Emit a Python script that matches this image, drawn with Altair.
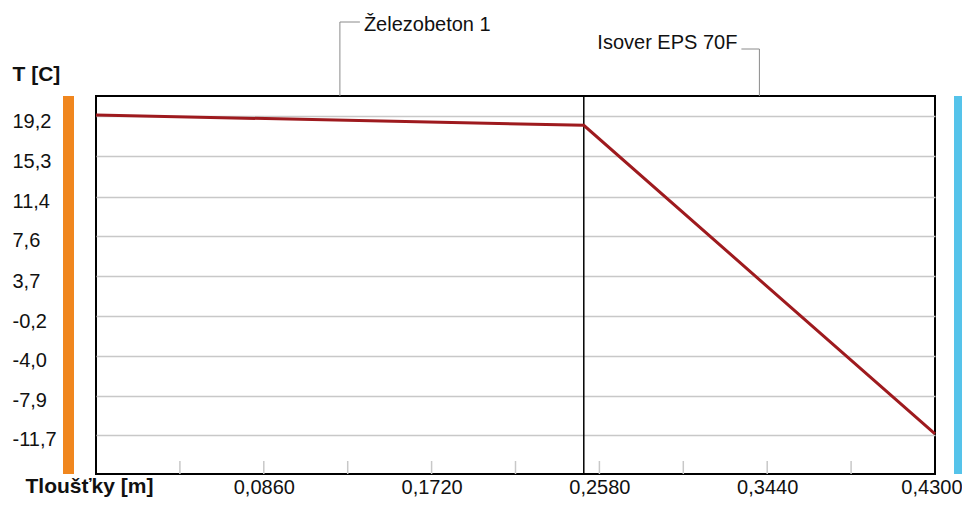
import altair as alt
import pandas as pd

# ---- data ----
layer_names = ["Železobeton 1", "Isover EPS 70F"]
layer_thickness = [0.25, 0.18]
profile_x = [0.0, 0.25, 0.43]
profile_t = [19.3, 18.3, -11.6]
y_ticks = [19.2, 15.3, 11.4, 7.6, 3.7, -0.2, -4.0, -7.9, -11.7]
x_labels = [0.086, 0.172, 0.258, 0.344, 0.43]
x_minor = [0.043, 0.086, 0.129, 0.172, 0.215, 0.258, 0.301, 0.344, 0.387]

# derived tables
starts, mids = [], []
acc = 0.0
for t in layer_thickness:
    starts.append(acc)
    mids.append(acc + t / 2)
    acc += t
boundaries = starts[1:]

W, H = 839, 378
FONT = "Liberation Sans"
X_DOMAIN = [0, 0.43]
Y_DOMAIN = [-15.48, 21.14]

prof = pd.DataFrame({"x": profile_x, "t": profile_t})
xs = alt.Scale(domain=X_DOMAIN, nice=False, zero=False)
ys = alt.Scale(domain=Y_DOMAIN, nice=False, zero=False)

num_expr_y = "replace(replace(format(datum.value, '.1f'), '.', ','), '\u2212', '-')"
num_expr_x = "replace(format(datum.value, '.4f'), '.', ',')"

line = alt.Chart(prof).mark_line(color="#9e1a1e", strokeWidth=3).encode(
    x=alt.X("x:Q", scale=xs, axis=alt.Axis(
        values=x_labels, labelExpr=num_expr_x, grid=False, ticks=False, domain=False,
        labelPadding=3, labelFontSize=20, labelFont=FONT, labelColor="#111",
        labelFlush=True, labelFlushOffset=27,
        title="Tloušťky [m]", titleX=-71, titleY=12, titleAlign="left",
        titleBaseline="middle", titleFontSize=21, titleFontWeight="bold",
        titleFont=FONT, titleColor="#111")),
    y=alt.Y("t:Q", scale=ys, axis=alt.Axis(
        values=y_ticks, labelExpr=num_expr_y, grid=True, gridColor="#c8c8c8",
        gridWidth=1.5, ticks=False, domain=False, labelAlign="left",
        labelPadding=84, labelOffset=5, labelBaseline="middle",
        labelFontSize=20, labelFont=FONT, labelColor="#111",
        title="T [C]", titleAngle=0, titleX=-84, titleY=-22, titleAlign="left",
        titleBaseline="middle", titleFontSize=21, titleFontWeight="bold",
        titleFont=FONT, titleColor="#111")),
)

bnd = alt.Chart(pd.DataFrame({"x": boundaries})).mark_rule(
    color="black", strokeWidth=1.5).encode(
    x=alt.X("x:Q", scale=xs), y=alt.value(0), y2=alt.value(H))

minor = alt.Chart(pd.DataFrame({"x": x_minor})).mark_rule(
    color="#c8c8c8", strokeWidth=1.5).encode(
    x=alt.X("x:Q", scale=xs), y=alt.value(H - 13), y2=alt.value(H))

one = pd.DataFrame({"k": [0]})
inner_bar = alt.Chart(one).mark_rect(color="#f0861e").encode(
    x=alt.value(-33), x2=alt.value(-22), y=alt.value(0), y2=alt.value(H))
outer_bar = alt.Chart(one).mark_rect(color="#55c3ea").encode(
    x=alt.value(W + 19), x2=alt.value(W + 30), y=alt.value(0), y2=alt.value(H))

ann = pd.DataFrame({"name": layer_names, "mid": mids})
a0 = ann.iloc[[0]]
a1 = ann.iloc[[1]]
lead_col = "#8a8a8a"

l0v = alt.Chart(a0).mark_rule(color=lead_col, strokeWidth=1).encode(
    x=alt.X("mid:Q", scale=xs), y=alt.value(-74), y2=alt.value(0))
l0h = alt.Chart(a0).mark_rule(color=lead_col, strokeWidth=1, x2Offset=20).encode(
    x=alt.X("mid:Q", scale=xs), x2="mid:Q", y=alt.value(-74))
t0 = alt.Chart(a0).mark_text(align="left", baseline="middle", dx=24,
                             font=FONT, fontSize=20, color="#111").encode(
    x=alt.X("mid:Q", scale=xs), y=alt.value(-71), text="name:N")

l1v = alt.Chart(a1).mark_rule(color=lead_col, strokeWidth=1).encode(
    x=alt.X("mid:Q", scale=xs), y=alt.value(-47), y2=alt.value(0))
l1h = alt.Chart(a1).mark_rule(color=lead_col, strokeWidth=1, xOffset=-18).encode(
    x=alt.X("mid:Q", scale=xs), x2="mid:Q", y=alt.value(-47))
t1 = alt.Chart(a1).mark_text(align="right", baseline="middle", dx=-22,
                             font=FONT, fontSize=20, color="#111").encode(
    x=alt.X("mid:Q", scale=xs), y=alt.value(-53), text="name:N")

chart = alt.layer(
    inner_bar, outer_bar, minor, bnd, l0v, l0h, t0, l1v, l1h, t1, line
).properties(
    width=W, height=H,
    autosize=alt.AutoSizeParams(type="none"),
    padding={"left": 88, "top": 88, "right": 27, "bottom": 24},
    background="white",
).configure_view(stroke="black", strokeWidth=2)

chart.save("out.html", embed_options={"renderer": "svg", "actions": False})
